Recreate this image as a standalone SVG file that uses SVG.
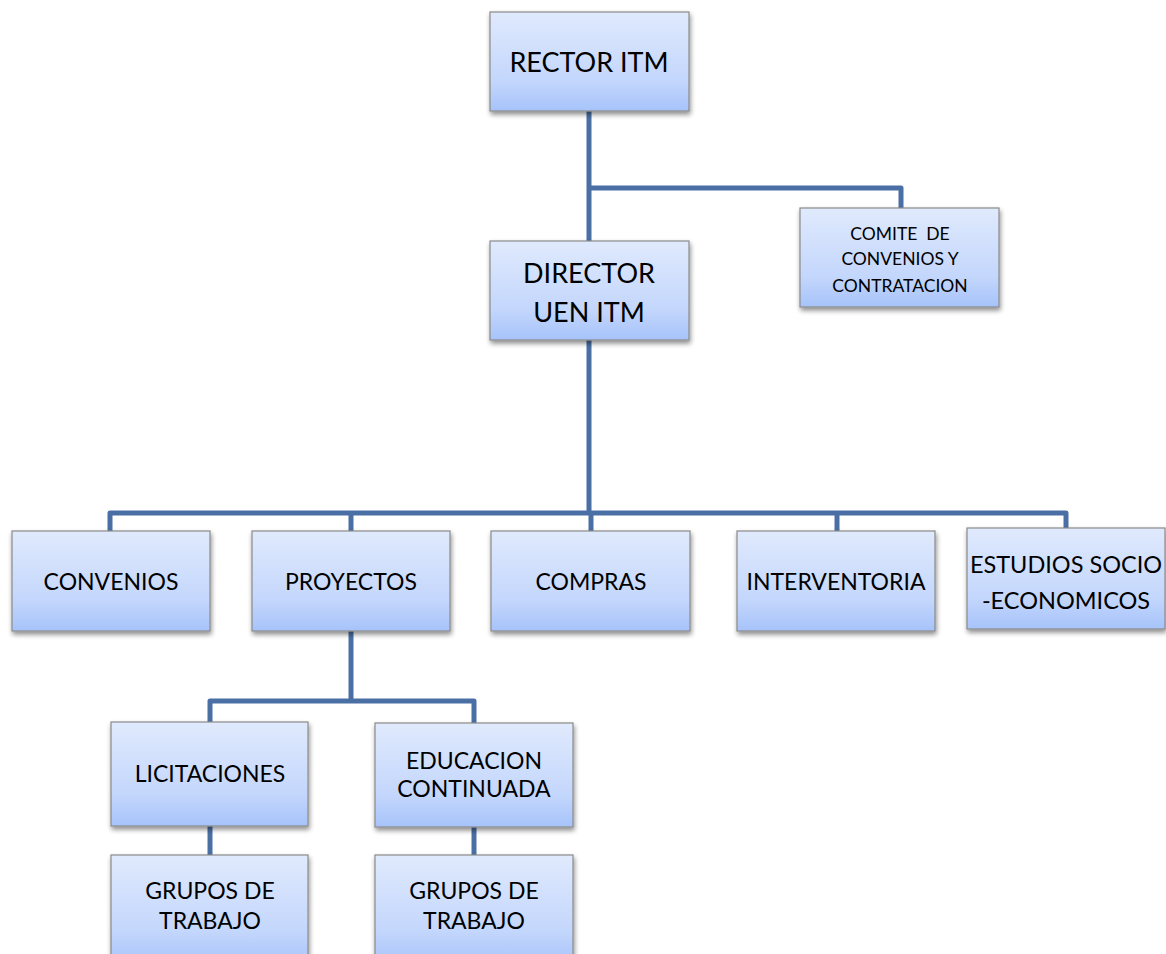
<svg xmlns="http://www.w3.org/2000/svg" width="1166" height="954" viewBox="0 0 1166 954">
<defs>
<linearGradient id="g" x1="0" y1="0" x2="0" y2="1">
<stop offset="0" stop-color="#e0eafd"/>
<stop offset="0.7" stop-color="#c3d6fc"/>
<stop offset="1" stop-color="#a6c3fa"/>
</linearGradient>
<filter id="sh" x="-10%" y="-10%" width="125%" height="130%">
<feGaussianBlur in="SourceAlpha" stdDeviation="2.5"/>
<feOffset dx="1" dy="3" result="b"/>
<feComponentTransfer><feFuncA type="linear" slope="0.45"/></feComponentTransfer>
<feMerge><feMergeNode/><feMergeNode in="SourceGraphic"/></feMerge>
</filter>
</defs>
<style>
.box{fill:url(#g);stroke:#8a8a8a;stroke-width:1.2;filter:url(#sh)}
.t{font-family:Lato,"Liberation Sans",sans-serif;fill:#000;text-anchor:middle}
.l{fill:none;stroke:#4a6fa5;stroke-width:5;stroke-linejoin:round}
</style>
<rect width="1166" height="954" fill="#fff"/>
<g id="connectors">
<path class="l" d="M589,111 V241"/>
<path class="l" d="M589,188 H901 V208"/>
<path class="l" d="M589,340 V513"/>
<path class="l" d="M110,531 V513 H1066 V528"/>
<path class="l" d="M351,513 V531"/>
<path class="l" d="M591,513 V531"/>
<path class="l" d="M837,513 V531"/>
<path class="l" d="M351,631 V699"/>
<path class="l" d="M210,722 V701 H474 V723"/>
<path class="l" d="M210,826 V855"/>
<path class="l" d="M474,827 V855"/>
</g>
<g id="rector"><rect class="box" x="490" y="12" width="199" height="99"/><text class="t" x="589" y="72" font-size="27">RECTOR ITM</text></g>
<g id="comite"><rect class="box" x="800" y="208" width="199" height="99"/>
<text class="t" font-size="17.5" x="900" y="240">COMITE&#160; DE</text>
<text class="t" font-size="17.5" x="900" y="265">CONVENIOS Y</text>
<text class="t" font-size="17.5" x="900" y="292">CONTRATACION</text></g>
<g id="director"><rect class="box" x="490" y="241" width="199" height="99"/>
<text class="t" font-size="27" x="589" y="283">DIRECTOR</text>
<text class="t" font-size="27" x="589" y="322">UEN ITM</text></g>
<g id="convenios"><rect class="box" x="12" y="531" width="198" height="100"/><text class="t" font-size="23" x="111" y="590">CONVENIOS</text></g>
<g id="proyectos"><rect class="box" x="252" y="531" width="198" height="100"/><text class="t" font-size="23" x="351" y="590">PROYECTOS</text></g>
<g id="compras"><rect class="box" x="491" y="531" width="199" height="100"/><text class="t" font-size="23" x="591" y="590">COMPRAS</text></g>
<g id="interventoria"><rect class="box" x="737" y="531" width="198" height="100"/><text class="t" font-size="23" x="836" y="590">INTERVENTORIA</text></g>
<g id="estudios"><rect class="box" x="967" y="528" width="198" height="101"/>
<text class="t" font-size="23.5" x="1066" y="573">ESTUDIOS SOCIO</text>
<text class="t" font-size="23.5" x="1066" y="609">-ECONOMICOS</text></g>
<g id="licitaciones"><rect class="box" x="111" y="722" width="197" height="104"/><text class="t" font-size="23" x="210" y="782">LICITACIONES</text></g>
<g id="educacion"><rect class="box" x="375" y="723" width="198" height="104"/>
<text class="t" font-size="23" x="474" y="769">EDUCACION</text>
<text class="t" font-size="23" x="474" y="797">CONTINUADA</text></g>
<g id="grupos1"><rect class="box" x="111" y="855" width="197" height="110"/>
<text class="t" font-size="23" x="210" y="899">GRUPOS DE</text>
<text class="t" font-size="23" x="210" y="929">TRABAJO</text></g>
<g id="grupos2"><rect class="box" x="375" y="855" width="198" height="110"/>
<text class="t" font-size="23" x="474" y="899">GRUPOS DE</text>
<text class="t" font-size="23" x="474" y="929">TRABAJO</text></g>
</svg>
